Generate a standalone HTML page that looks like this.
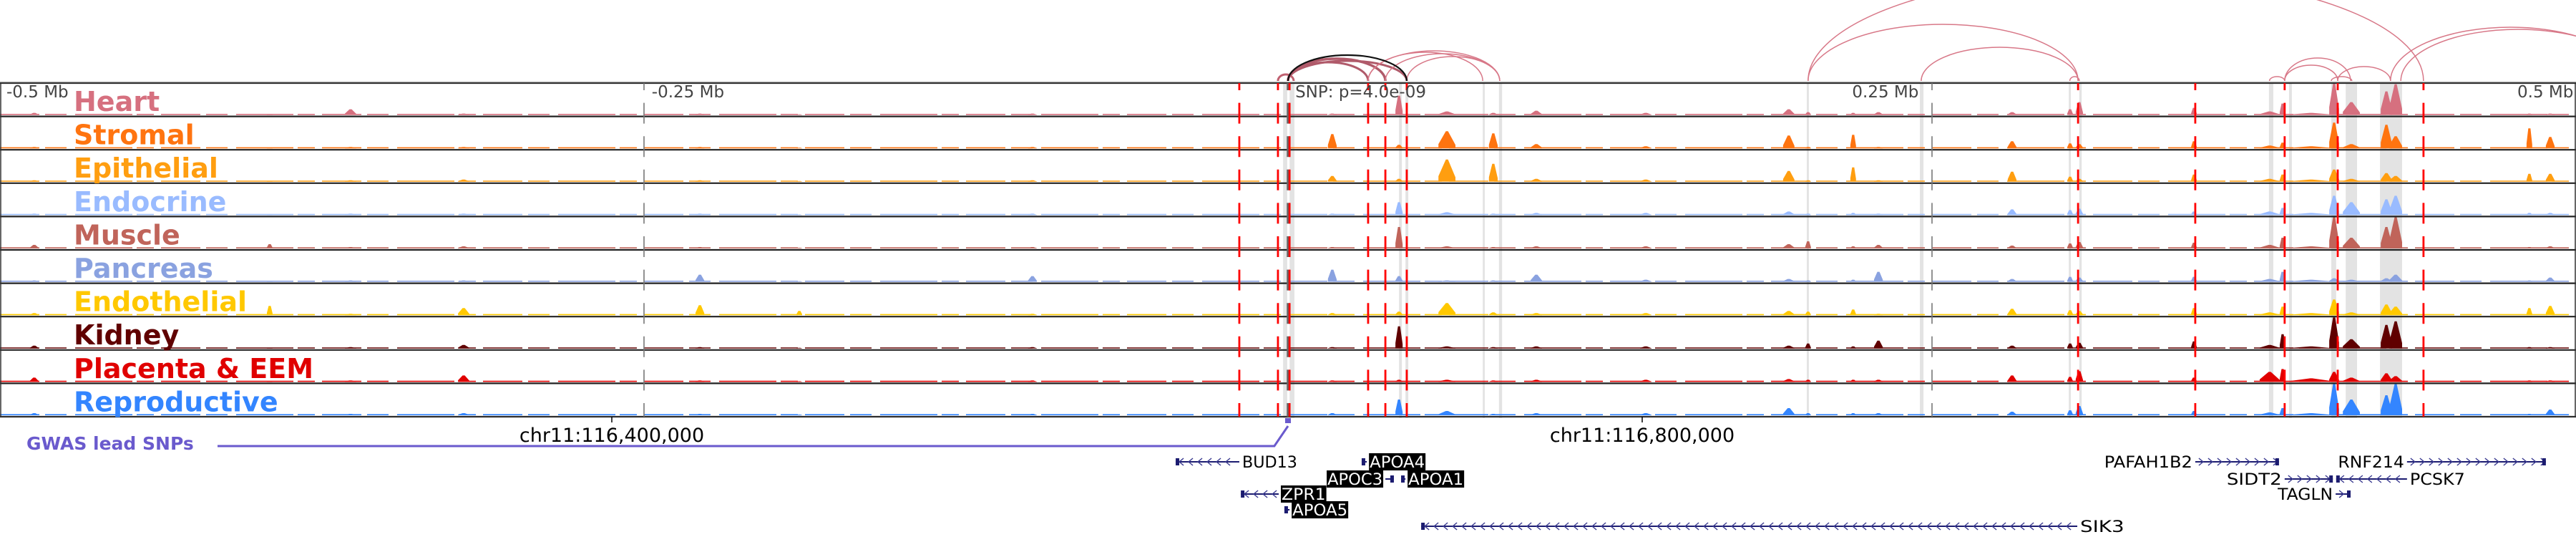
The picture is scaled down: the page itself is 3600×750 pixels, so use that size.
<!DOCTYPE html>
<html><head><meta charset="utf-8">
<style>
html,body{margin:0;padding:0;background:#fff;}
svg{display:block;font-family:"DejaVu Sans","Liberation Sans",sans-serif;}
</style></head>
<body>
<svg id="chart" width="3600" height="750" viewBox="0 0 3600 750" xmlns="http://www.w3.org/2000/svg">
<g id="bands"></g>
<g id="arcs"></g>
<g id="tracks"></g>
<g id="vlines"></g>
<g id="labels"></g>
<g id="genes"></g>
</svg>
<script>
// ---------- data ----------
const trackNames = ["Heart","Stromal","Epithelial","Endocrine","Muscle","Pancreas","Endothelial","Kidney","Placenta & EEM","Reproductive"];
const trackColors = ["#d6707f","#ff7410","#ff9e10","#99bbff","#c0645a","#8aa2e0","#ffc800","#600000","#e00000","#3385ff"];
// peak centres (kb from window centre) and half widths (kb)
const peakKb = [-486.7,-395.3,-363.9,-320,-228.3,-189.7,-99.2,17.2,43.1,61.7,79.7,96.4,138.9,194.4,201.9,219.4,229.2,281.1,303.6,307.2,351.7,381.1,386.1,397.2,406.1,412.8,426.4,430,481.9,490];
const peakHalfKb = [1.7,1.1,2.2,2.2,1.7,1.1,1.7,1.7,1.4,3.3,1.7,2.2,2.2,2.2,1.1,1.1,1.7,1.7,1.1,1.4,1.1,3.9,1.1,8.3,1.9,3.3,2.2,2.5,1.1,1.7];
// heights (px) per track per peak
const hHeart      = [3,1,8,2,2,1,2,2,27,5,3,6,3,8,4,3,4,4,8,18,10,5,16,3,45,18,33,43,2,2];
const hStromal    = [2,1,2,2,2,1,2,20,5,24,21,6,3,18,2,19,2,10,7,6,10,4,8,3,36,6,33,17,28,16];
const hEpithelial = [2,1,2,3,2,1,2,8,4,31,25,4,3,15,2,20,2,14,7,4,10,4,10,3,17,4,12,8,11,11];
const hEndocrine  = [2,1,2,2,2,1,2,2,18,4,2,3,3,5,2,3,2,8,7,9,5,5,10,3,27,18,22,27,3,3];
const hMuscle     = [5,6,2,3,2,1,2,2,30,3,2,3,3,6,10,3,5,4,7,9,8,5,15,3,45,15,30,45,2,3];
const hPancreas   = [2,1,2,2,10,1,8,17,8,2,2,10,3,4,2,3,14,4,7,6,7,4,14,3,5,3,5,10,2,6];
const hEndoth     = [3,13,2,10,14,6,2,3,5,17,4,3,3,6,5,8,2,9,7,6,10,4,12,3,22,4,15,12,10,13];
const hKidney     = [4,1,2,5,2,1,2,2,31,3,2,3,3,4,7,3,11,4,7,8,10,5,20,3,45,13,33,38,2,2];
const hPlacenta   = [6,1,2,9,2,1,2,2,3,3,2,3,3,4,3,3,3,9,7,15,6,14,18,5,14,6,12,8,2,2];
const hRepro      = [3,1,2,3,2,1,2,3,22,6,2,3,3,10,3,3,3,5,7,13,6,4,10,3,45,22,28,44,2,8];
const trackHeights = [hHeart,hStromal,hEpithelial,hEndocrine,hMuscle,hPancreas,hEndoth,hKidney,hPlacenta,hRepro];
// annotations (kb)
const redLineKb = [-18.9,-3.9,0.6,31.1,37.8,46.1,306.7,352.2,386.9,407.5,440.8];
const bandStartKb = [-1.9,0.6,43.1,45.6,75.6,81.9,201.4,245.3,303.1,307.2,380.8,388.6,405,410.6,423.9];
const bandEndKb   = [-0.3,2.5,44.2,46.7,76.4,83.1,202.2,246.7,303.9,308.1,382.5,389.7,406.9,415,432.5];
const arcStartKb = [-3.9,0,0,0,31.1,31.1,37.8,46.1,201.9,201.9,245.8,303.5,381,386.9,386.9,407.5,405,428,432];
const arcEndKb   = [2.2,37.8,46.1,31.1,75.6,82.2,82.2,82.2,306.7,440.8,306.7,307.2,386.9,412.5,407.5,428,413,521,523];
const arcHeight  = [9,31,28,26,40,42,38,34,79,150,47,6,6,32,22,20,6,75,72];
const arcColor   = ["#c06070","#b05a6a","#b05a6a","#b05a6a","#d87888","#d87888","#d87888","#d87888","#d87888","#d87888","#d87888","#d87888","#d87888","#d87888","#d87888","#d87888","#d87888","#d87888","#d87888"];
const axisLabels = ["-0.5 Mb","-0.25 Mb","SNP: p=4.0e-09","0.25 Mb","0.5 Mb"];
const axisLabelKb = [-497.5,-247,2.8,219,499];
const genomeTickLabels = ["chr11:116,400,000","chr11:116,800,000"];
const genomeTickKb = [-262.5,137.5];
const geneNames  = ["BUD13","APOA4","APOC3","APOA1","ZPR1","APOA5","SIK3","PAFAH1B2","SIDT2","TAGLN","PCSK7","RNF214"];
const geneStartKb= [-43.6,28.6,37.8,43.9,-18.3,-1.4,51.7,352.2,386.9,406.7,406.9,434.4];
const geneEndKb  = [-18.9,30.6,41.1,45.6,-3.6,0.6,306.4,384.7,405.6,412.5,434.4,488.3];
const geneRow    = [0,0,1,1,2,3,4,0,1,2,1,0];
const geneStrand = ["-","-","+","-","-","-","-","+","+","+","-","+"];
const geneLabelSide = ["r","r","l","r","r","r","r","l","l","l","r","l"];
const geneHighlight = [0,1,1,1,1,1,0,0,0,0,0,0];

// ---------- scales ----------
const W = 3600, TOP = 116, TH = 46.6, NT = 10, BOT = TOP + TH*NT;
function xs(kb){ return 1800 + kb*3.6; }
const rowY = [645,669,690,712,735];
const NS = "http://www.w3.org/2000/svg";
function mk(tag, attrs, parent){ const e=document.createElementNS(NS,tag); for(const k in attrs) e.setAttribute(k,attrs[k]); parent.appendChild(e); return e; }

// bands
const gB = document.getElementById('bands');
for(let i=0;i<bandStartKb.length;i++){
  const r = mk('rect',{x:xs(bandStartKb[i]),y:TOP,width:Math.max(2,xs(bandEndKb[i])-xs(bandStartKb[i])),height:BOT-TOP+2,fill:'#e3e3e3'},gB);
  
  
}

// arcs
const gA = document.getElementById('arcs');
for(let i=0;i<arcStartKb.length;i++){
  const x1=xs(arcStartKb[i]), x2=xs(arcEndKb[i]), h=arcHeight[i], y0=113;
  const rx=(x2-x1)/2;
  const p = mk('path',{d:`M${x1},${y0} A${rx},${h} 0 0 1 ${x2},${y0}`,fill:'none',stroke:arcColor[i],'stroke-width':(i===1?3.5:(i<4?3:1.5))},gA);
  
  
}
const blackArc = mk('path',{d:`M${xs(0)},113 A${(xs(46.1)-xs(0))/2},36 0 0 1 ${xs(46.1)},113`,fill:'none',stroke:'#111','stroke-width':2.2},gA);



// tracks
const gT = document.getElementById('tracks');
for(let t=0;t<NT;t++){
  const top = TOP + t*TH, base = top + TH - 2;
  const g = mk('g',{},gT);
  
  
  const bl = mk('line',{x1:0,y1:base-0.8,x2:W,y2:base-0.8,stroke:trackColors[t],'stroke-width':1.6,'stroke-dasharray':'55 8 30 12 80 6 24 10'},g);
  
  
  const hs = trackHeights[t];
  for(let p=0;p<peakKb.length;p++){
    const h = Math.min(hs[p], TH-3);
    const cx = xs(peakKb[p]), hw = Math.max(2, peakHalfKb[p]*3.6);
    const poly = mk('polygon',{points:`${cx-hw},${base} ${cx-hw},${base-h*0.25} ${cx-1.5},${base-h} ${cx+1.5},${base-h} ${cx+hw},${base-h*0.2} ${cx+hw},${base}`,fill:trackColors[t]},g);
    
    
  }
}
for(let t=0;t<=NT;t++){
  const y = TOP + t*TH;
  const l = mk('line',{x1:0,y1:y,x2:W,y2:y,stroke:'#222','stroke-width':2.2},gT);
  
  
}
const frame = mk('rect',{x:1,y:TOP,width:W-2,height:BOT-TOP,fill:'none',stroke:'#333','stroke-width':1.5},gT);


const topGrey = mk('line',{x1:0,y1:TOP-2,x2:W,y2:TOP-2,stroke:'#ccc','stroke-width':1},gT);



// vertical marker lines
const gV = document.getElementById('vlines');
[[-250,'#777',1.6],[0,'#666',3.5],[250,'#777',1.6]].forEach(a=>{
  const l = mk('line',{x1:xs(a[0]),y1:TOP,x2:xs(a[0]),y2:BOT,stroke:a[1],'stroke-width':a[2],'stroke-dasharray':'29 17.6','stroke-dashoffset':19},gV);
  
  
});
for(let i=0;i<redLineKb.length;i++){
  const l = mk('line',{x1:xs(redLineKb[i]),y1:TOP,x2:xs(redLineKb[i]),y2:BOT,stroke:'#ff0000','stroke-width':2.8,'stroke-dasharray':'29 17.6','stroke-dashoffset':19},gV);
  
  
}

// labels
const gL = document.getElementById('labels');
for(let t=0;t<NT;t++){
  const tx = mk('text',{x:103,y:TOP+t*TH+39,fill:trackColors[t],'font-size':38,'font-weight':'bold'},gL);
  tx.textContent = trackNames[t];
  
  
}
for(let i=0;i<axisLabels.length;i++){
  const anchor = i===axisLabels.length-1 ? 'end' : 'start';
  const tx = mk('text',{x:xs(axisLabelKb[i]),y:136,fill:'#444','font-size':23,'text-anchor':anchor},gL);
  tx.textContent = axisLabels[i];
  
  
}
for(let i=0;i<genomeTickLabels.length;i++){
  const x = xs(genomeTickKb[i]);
  const tk = mk('line',{x1:x,y1:BOT,x2:x,y2:BOT+8,stroke:'#000','stroke-width':1.5},gL);
  
  
  const tx = mk('text',{x:x,y:617,fill:'#000','font-size':27,'text-anchor':'middle'},gL);
  tx.textContent = genomeTickLabels[i];
  
  
}
// GWAS track
const gw = mk('text',{x:37,y:628,fill:'#6a5acd','font-size':25,'font-weight':'bold'},gL);
gw.textContent = 'GWAS lead SNPs';


const gwl = mk('polyline',{points:`304,623 ${xs(-5.3)},623 ${xs(0)},595`,fill:'none',stroke:'#6a5acd','stroke-width':3},gL);


const gwm = mk('rect',{x:xs(0)-4,y:584,width:8,height:7,fill:'#6a5acd'},gL);



// genes
const gG = document.getElementById('genes');
for(let i=0;i<geneNames.length;i++){
  const x1=xs(geneStartKb[i]), x2=xs(geneEndKb[i]), y=rowY[geneRow[i]];
  const g = mk('g',{},gG);
  
  
  mk('line',{x1:x1,y1:y,x2:x2,y2:y,stroke:'#1c1c70','stroke-width':2},g);
  const dir = geneStrand[i]==='+'?1:-1;
  let d='';
  for(let x=x1+8;x<x2-4;x+=13){ d+=`M${x-3*dir},${y-5} L${x+3*dir},${y} L${x-3*dir},${y+5} `; }
  if(d) mk('path',{d:d,fill:'none',stroke:'#3a3a90','stroke-width':1.4},g);
  const ex = geneStrand[i]==='+'?x2-5:x1;
  mk('rect',{x:ex,y:y-5,width:5,height:10,fill:'#1c1c70'},g);
  const txt = geneNames[i];
  const fw = 22*0.7*txt.length;
  let tx, anchor;
  if(geneLabelSide[i]==='r'){ tx=x2+4; anchor='start'; } else { tx=x1-4; anchor='end'; }
  if(geneHighlight[i]){
    const bx = anchor==='start'?tx-1:tx-fw-1;
    mk('rect',{x:bx,y:y-12,width:fw+2,height:24,fill:'#000'},g);
  }
  const t = mk('text',{x:tx,y:y+8,'font-size':22,fill:geneHighlight[i]?'#fff':'#000','text-anchor':anchor,textLength:fw,lengthAdjust:'spacingAndGlyphs'},g);
  t.textContent = txt;
  
  
}
</script>
</body></html>
